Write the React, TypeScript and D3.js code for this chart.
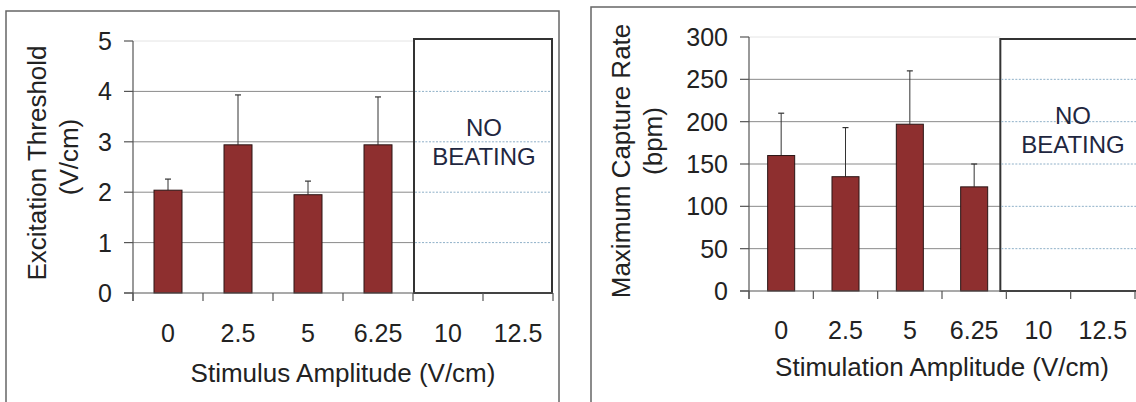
import React from "react";
import * as d3 from "d3";

const categories = ["0", "2.5", "5", "6.25", "10", "12.5"];
const thresholdMeans = [2.04, 2.94, 1.95, 2.94];
const thresholdErrors = [0.22, 0.99, 0.27, 0.95];
const captureMeans = [160, 135, 197, 123];
const captureErrors = [50, 58, 63, 27];
const thresholdTicks = [0, 1, 2, 3, 4, 5];
const captureTicks = [0, 50, 100, 150, 200, 250, 300];
const noBeatingLines = ["NO", "BEATING"];

const FONT = "'Liberation Sans', Arial, Helvetica, sans-serif";
const BAR_FILL = "#8e2f2f";
const BAR_STROKE = "#2a1515";
const AXIS = "#555";

type PanelProps = {
  frame: { x: number; y: number; w: number };
  xRange: [number, number];
  yRange: [number, number];
  yMax: number;
  yTicks: number[];
  means: number[];
  errors: number[];
  barFrac: number;
  yTitle: string[];
  yTitleX: number[];
  yTitleY: number[];
  xTitle: string;
  xTitleY: number;
  xLabelY: number;
  boxLeftOffset: number;
  boxTopOffset: number;
  boxRight: number;
  nbX: number;
  nbY: number[];
};

function Panel(p: PanelProps) {
  const x = d3.scaleBand<string>().domain(categories).range(p.xRange).padding(0);
  const y = d3.scaleLinear().domain([0, p.yMax]).range(p.yRange);
  const bw = x.bandwidth();
  const barW = bw * p.barFrac;
  const [x0, x1] = p.xRange;
  const boxLeft = (x("10") as number) + p.boxLeftOffset;
  const boxTop = y(p.yMax) + p.boxTopOffset;
  const y0 = y(0);
  const xTicks = categories.map((c) => x(c) as number).concat([x1]);
  return (
    <g>
      {/* frame */}
      <rect x={p.frame.x} y={p.frame.y} width={p.frame.w} height={1000} fill="none" stroke="#666" strokeWidth={1.5} />
      {/* gridlines */}
      {p.yTicks.slice(1).map((t) => (
        <line key={"g" + t} x1={x0} x2={boxLeft} y1={y(t)} y2={y(t)}
          stroke={t === p.yMax ? "#e4e4e4" : "#8a8a8a"} strokeWidth={1} />
      ))}
      {/* no beating box */}
      <rect x={boxLeft} y={boxTop} width={p.boxRight - boxLeft} height={y0 - boxTop} fill="#fff" stroke="#333" strokeWidth={2} />
      {p.yTicks.slice(1, -1).map((t) => (
        <line key={"d" + t} x1={boxLeft + 1} x2={p.boxRight - 1} y1={y(t)} y2={y(t)}
          stroke="#8fb0c8" strokeWidth={1} strokeDasharray="2,1.5" />
      ))}
      {noBeatingLines.map((s, i) => (
        <text key={s} x={p.nbX} y={p.nbY[i]} textAnchor="middle" fontFamily={FONT} fontSize={24} fill="#1f2740">{s}</text>
      ))}
      {/* bars */}
      {p.means.map((m, i) => {
        const cx = (x(categories[i]) as number) + bw / 2;
        return (
          <g key={"b" + i}>
            <line x1={cx} x2={cx} y1={y(m)} y2={y(m + p.errors[i])} stroke="#333" strokeWidth={1} />
            <line x1={cx - 3} x2={cx + 3} y1={y(m + p.errors[i])} y2={y(m + p.errors[i])} stroke="#333" strokeWidth={1.2} />
            <rect x={cx - barW / 2} y={y(m)} width={barW} height={y0 - y(m)} fill={BAR_FILL} stroke={BAR_STROKE} strokeWidth={1} />
          </g>
        );
      })}
      {/* axes */}
      <line x1={x0} x2={x0} y1={y(p.yMax)} y2={y0 + 8} stroke={AXIS} strokeWidth={1.2} />
      <line x1={x0 - 9} x2={x1} y1={y0} y2={y0} stroke={AXIS} strokeWidth={1.2} />
      {p.yTicks.map((t) => (
        <g key={"yt" + t}>
          <line x1={x0 - 9} x2={x0} y1={y(t)} y2={y(t)} stroke={AXIS} strokeWidth={1.2} />
          <text x={x0 - 21} y={y(t)} dy="0.36em" textAnchor="end" fontFamily={FONT} fontSize={25} fill="#222">{t}</text>
        </g>
      ))}
      {xTicks.map((tx, i) => (
        <line key={"xt" + i} x1={tx} x2={tx} y1={y0} y2={y0 + 8} stroke={AXIS} strokeWidth={1.2} />
      ))}
      {categories.map((c) => (
        <text key={"xl" + c} x={(x(c) as number) + bw / 2} y={p.xLabelY} textAnchor="middle" fontFamily={FONT} fontSize={25} fill="#222">{c}</text>
      ))}
      <text x={(x0 + x1) / 2} y={p.xTitleY} textAnchor="middle" fontFamily={FONT} fontSize={26} fill="#222">{p.xTitle}</text>
      {p.yTitle.map((s, i) => (
        <text key={s} transform={`translate(${p.yTitleX[i]},${p.yTitleY[i]}) rotate(-90)`} textAnchor="middle" fontFamily={FONT} fontSize={26} fill="#222">{s}</text>
      ))}
    </g>
  );
}

export default function App() {
  return (
    <svg width={1136} height={402} style={{ position: "absolute", left: 0, top: 0, background: "#fff" }}>
      <rect x={0} y={0} width={1136} height={402} fill="#fff" />
      <Panel
        frame={{ x: 6, y: 11, w: 553 }}
        xRange={[133, 553]}
        yRange={[293, 41]}
        yMax={5}
        yTicks={thresholdTicks}
        means={thresholdMeans}
        errors={thresholdErrors}
        barFrac={0.4}
        yTitle={["Excitation Threshold", "(V/cm)"]}
        yTitleX={[46, 78]}
        yTitleY={[163, 157]}
        xTitle="Stimulus Amplitude (V/cm)"
        xTitleY={382}
        xLabelY={342}
        boxLeftOffset={1}
        boxTopOffset={-2}
        boxRight={552}
        nbX={484}
        nbY={[136, 165]}
      />
      <Panel
        frame={{ x: 591, y: 7, w: 600 }}
        xRange={[749, 1135]}
        yRange={[291, 37]}
        yMax={300}
        yTicks={captureTicks}
        means={captureMeans}
        errors={captureErrors}
        barFrac={0.42}
        yTitle={["Maximum Capture Rate", "(bpm)"]}
        yTitleX={[630, 662]}
        yTitleY={[161, 141]}
        xTitle="Stimulation Amplitude (V/cm)"
        xTitleY={376}
        xLabelY={339}
        boxLeftOffset={-6}
        boxTopOffset={2}
        boxRight={1145}
        nbX={1073}
        nbY={[124, 153]}
      />
    </svg>
  );
}
